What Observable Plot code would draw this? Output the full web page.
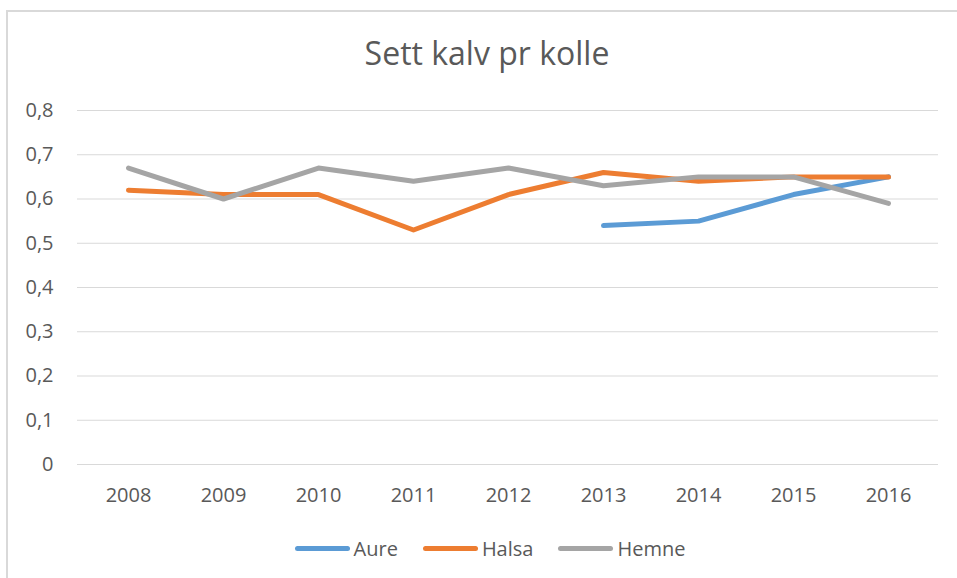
<!DOCTYPE html>
<html><head><meta charset="utf-8">
<script src="https://cdn.jsdelivr.net/npm/d3@7"></script>
<script src="https://cdn.jsdelivr.net/npm/@observablehq/plot@0.6"></script>
<style>
body{margin:0;background:#fff;font-family:"Open Sans",sans-serif;color:#595959}
#wrap{position:relative;width:957px;height:578px;overflow:hidden;background:#fff}
#frame{position:absolute;left:6px;top:10px;width:1000px;height:600px;border-top:2px solid #d9d9d9;border-left:2px solid #d9d9d9;box-sizing:border-box;pointer-events:none;z-index:2}
#title{width:974px;height:43px;padding-top:37px;font-size:32px;line-height:32px;text-align:center;white-space:nowrap}
#legend{width:980px;height:56px;display:flex;justify-content:center;align-items:center;font-size:20px}
.item{display:flex;align-items:center}
.item + .item{margin-left:25px}
.sw{display:inline-block;width:55px;height:5px;border-radius:3px;margin-right:4px}
#chart svg{display:block}
</style>
</head><body>
<div id="wrap">
  <div id="frame"></div>
  <div id="title">Sett kalv pr kolle</div>
  <div id="chart"></div>
  <div id="legend"></div>
</div>
<script>
const years = ["2008","2009","2010","2011","2012","2013","2014","2015","2016"];
const seriesNames = ["Aure","Halsa","Hemne"];
const aure  = [null, null, null, null, null, 0.54, 0.55, 0.61, 0.65];
const halsa = [0.62, 0.61, 0.61, 0.53, 0.61, 0.66, 0.64, 0.65, 0.65];
const hemne = [0.67, 0.60, 0.67, 0.64, 0.67, 0.63, 0.65, 0.65, 0.59];
const colors = ["#5b9bd5", "#ed7d31", "#a5a5a5"];
const yTicks = [0, 0.1, 0.2, 0.3, 0.4, 0.5, 0.6, 0.7, 0.8];

const valuesBySeries = [aure, halsa, hemne];
const rows = [];
seriesNames.forEach((s, i) => {
  valuesBySeries[i].forEach((v, j) => {
    if (v !== null) rows.push({series: s, year: years[j], value: v});
  });
});

const fmt = d => d === 0 ? "0" : d.toFixed(1).replace(".", ",");

const chart = Plot.plot({
  width: 957,
  height: 440,
  marginTop: 30,
  marginBottom: 56,
  marginLeft: 77,
  marginRight: 19,
  style: {background: "transparent", fontFamily: "Open Sans, sans-serif", fontSize: "20px", color: "#595959"},
  x: {type: "point", domain: years, padding: 0.5, label: null},
  y: {domain: [0, 0.8], label: null},
  color: {domain: seriesNames, range: colors},
  marks: [
    Plot.ruleY(yTicks, {stroke: "#d9d9d9", strokeWidth: 1.2}),
    Plot.axisY({ticks: yTicks, tickFormat: fmt, tickSize: 0, tickPadding: 24, fill: "#595959", label: null}),
    Plot.axisX({tickSize: 0, tickPadding: 23, fill: "#595959", label: null}),
    Plot.line(rows, {x: "year", y: "value", z: "series", stroke: "series", strokeWidth: 5, strokeLinecap: "round", strokeLinejoin: "round"})
  ]
});
document.getElementById("chart").appendChild(chart);

const legend = document.getElementById("legend");
seriesNames.forEach((s, i) => {
  const it = document.createElement("div");
  it.className = "item";
  const sw = document.createElement("span");
  sw.className = "sw";
  sw.style.background = colors[i];
  const t = document.createElement("span");
  t.textContent = s;
  it.appendChild(sw); it.appendChild(t);
  legend.appendChild(it);
});
</script>
</body></html>
